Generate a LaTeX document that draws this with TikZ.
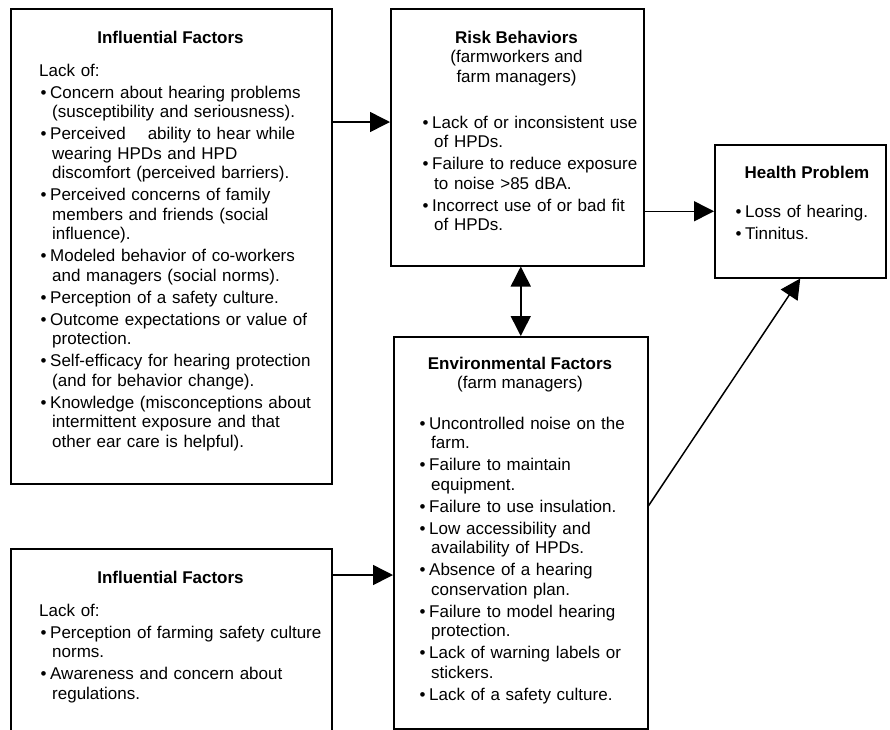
\documentclass[tikz,border=0pt]{standalone}
\usepackage{fontspec}
\setmainfont{Liberation Sans}
\usetikzlibrary{arrows.meta}
\newcommand{\firstbul}{\hangindent=13pt\hangafter=1\noindent\makebox[11pt][l]{\hspace{1.5pt}\textbullet}}
\newcommand{\bul}{\par\vspace{2.5pt}\firstbul}

\begin{document}
\begin{tikzpicture}[x=1pt, y=-1pt,
  box/.style={draw, line width=1.5pt, anchor=north west, inner sep=0pt},
  ttl/.style={anchor=base, inner sep=0pt, align=center, font=\fontsize{17pt}{19.5pt}\selectfont},
  body/.style={anchor=base west, inner sep=0pt, align=left, text width=#1, font=\fontsize{17pt}{19.5pt}\selectfont},
  arr/.style={line width=1.5pt, -{Triangle[length=20pt,width=20pt]}},
  twoarr/.style={line width=1.5pt, {Triangle[length=20pt,width=20pt]}-{Triangle[length=20pt,width=20pt]}}]
\useasboundingbox (0,0) rectangle (890,729);

\node[box, minimum width=321pt, minimum height=475pt] (infl) at (10,8) {};
\node[box, minimum width=253pt, minimum height=257pt] (risk) at (390,8) {};
\node[box, minimum width=171pt, minimum height=133pt] (health) at (714,144) {};
\node[box, minimum width=254pt, minimum height=392pt] (env) at (393,336) {};
\node[box, minimum width=321pt, minimum height=250pt] (low) at (10,548) {};

\node[ttl] (infltitle) at (170.5,43) {\textbf{Influential Factors}};
\node[body=300pt] (inflbody) at (39,76) {Lack of:
\bul Concern about hearing problems\newline (susceptibility and seriousness).
\bul Perceived\hspace{22pt}ability to hear while\newline wearing HPDs and HPD\newline discomfort (perceived barriers).
\bul Perceived concerns of family\newline members and friends (social\newline influence).
\bul Modeled behavior of co-workers\newline and managers (social norms).
\bul Perception of a safety culture.
\bul Outcome expectations or value of\newline protection.
\bul Self-efficacy for hearing protection\newline (and for behavior change).
\bul Knowledge (misconceptions about\newline intermittent exposure and that\newline other ear care is helpful).\par};

% base of a multi-line title is its last line
\node[ttl] (risktitle) at (516.5,82) {\textbf{Risk Behaviors}\\(farmworkers and\\farm managers)};
\node[body=220pt] (riskbody) at (421,128) {\firstbul Lack of or inconsistent use\newline of HPDs.
\bul Failure to reduce exposure\newline to noise >85 dBA.
\bul Incorrect use of or bad fit\newline of HPDs.\par};

\node[ttl] (healthtitle) at (807,178) {\textbf{Health Problem}};
\node[body=140pt] (healthbody) at (734,217) {\firstbul Loss of hearing.
\bul Tinnitus.\par};

\node[ttl] (envtitle) at (520,388.5) {\textbf{Environmental Factors}\\(farm managers)};
\node[body=220pt] (envbody) at (418,429) {\firstbul Uncontrolled noise on the\newline farm.
\bul Failure to maintain\newline equipment.
\bul Failure to use insulation.
\bul Low accessibility and\newline availability of HPDs.
\bul Absence of a hearing\newline conservation plan.
\bul Failure to model hearing\newline protection.
\bul Lack of warning labels or\newline stickers.
\bul Lack of a safety culture.\par};

\node[ttl] (lowtitle) at (170.5,583) {\textbf{Influential Factors}};
\node[body=300pt] (lowbody) at (39,616) {Lack of:
\bul Perception of farming safety culture\newline norms.
\bul Awareness and concern about\newline regulations.\par};

\draw[arr] ([yshift=-114pt]infl.north east) -- ([yshift=-114pt]risk.north west);
\draw[arr] (risk.east |- health.west) -- (health.west);
\draw[twoarr] (env.north |- risk.south) -- (env.north);
\draw[arr] ([yshift=27pt]env.east) -- (health.south);
\draw[arr] ([yshift=-27pt]low.north east) coordinate (lowout) -- (lowout -| env.west);
\end{tikzpicture}
\end{document}
